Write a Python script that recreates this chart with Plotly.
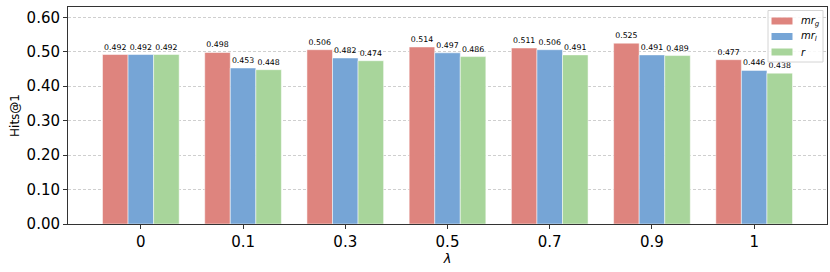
import plotly.graph_objects as go

categories = ["0", "0.1", "0.3", "0.5", "0.7", "0.9", "1"]
mr_g = [0.492, 0.498, 0.506, 0.514, 0.511, 0.525, 0.477]
mr_l = [0.492, 0.453, 0.482, 0.497, 0.506, 0.491, 0.446]
r_vals = [0.492, 0.448, 0.474, 0.486, 0.491, 0.489, 0.438]
series_names = ["<i>mr<sub>g</sub></i>", "<i>mr<sub>l</sub></i>", "<i>r</i>"]
colors = ["#de847e", "#76a5d6", "#a8d59b"]
y_ticks = [0.0, 0.1, 0.2, 0.3, 0.4, 0.5, 0.6]

W, H = 830, 272
ML, MR, MT, MB = 68, 3, 7, 48
PW, PH = W - ML - MR, H - MT - MB


def px_x(px):
    return (px - ML) / PW


def px_y(py):
    return (H - MB - py) / PH


fig = go.Figure()
for name, vals, col in zip(series_names, [mr_g, mr_l, r_vals], colors):
    fig.add_trace(go.Bar(
        x=categories, y=vals, name=name,
        marker=dict(color=col, line=dict(color="white", width=0.5)),
        text=[f"{v:.3f}" for v in vals], textposition="outside",
        textfont=dict(size=7.8, color="black", family="DejaVu Sans"),
        cliponaxis=False, showlegend=False,
    ))

# matplotlib-style legend box (layout decoration in paper coordinates)
shapes = [dict(type="rect", xref="paper", yref="paper", layer="above",
               x0=px_x(768), x1=px_x(823), y0=px_y(62), y1=px_y(10.5),
               fillcolor="rgba(255,255,255,0.85)", line=dict(color="#d4d4d4", width=1))]
annotations = []
for i, (name, col) in enumerate(zip(series_names, colors)):
    cy = 21 + i * 15.5
    shapes.append(dict(type="rect", xref="paper", yref="paper", layer="above",
                       x0=px_x(771.5), x1=px_x(792.5), y0=px_y(cy + 3.5), y1=px_y(cy - 3.5),
                       fillcolor=col, line=dict(width=0)))
    annotations.append(dict(xref="paper", yref="paper", x=px_x(799), y=px_y(cy),
                            xanchor="left", yanchor="middle", showarrow=False,
                            text=name, font=dict(size=10, color="black")))

fig.update_layout(
    width=W, height=H,
    margin=dict(l=ML, r=MR, t=MT, b=MB, autoexpand=False),
    plot_bgcolor="white", paper_bgcolor="white",
    barmode="group", bargap=0.25, bargroupgap=0,
    font=dict(family="DejaVu Sans", color="black"),
    showlegend=False,
    shapes=shapes, annotations=annotations,
    xaxis=dict(type="category", range=[-0.7125, 6.7125], automargin=False,
               showline=True, linecolor="#333", linewidth=1, mirror=True,
               ticks="outside", ticklen=4, tickcolor="#333",
               tickfont=dict(size=15),
               title=dict(text="<i>λ</i>", font=dict(size=13), standoff=3)),
    yaxis=dict(range=[0, 0.63], tickvals=y_ticks, tickformat=".2f", automargin=False,
               showline=True, linecolor="#333", linewidth=1, mirror=True,
               ticks="outside", ticklen=4, tickcolor="#333",
               tickfont=dict(size=15),
               showgrid=True, gridcolor="#cfcfcf", griddash="3px,2px", gridwidth=0.8,
               zeroline=False,
               title=dict(text="Hits@1", font=dict(size=12), standoff=4)),
)

fig.write_html("out.html", config={"displayModeBar": False},
               post_script="document.body.style.margin='0';document.body.style.overflow='hidden';")
